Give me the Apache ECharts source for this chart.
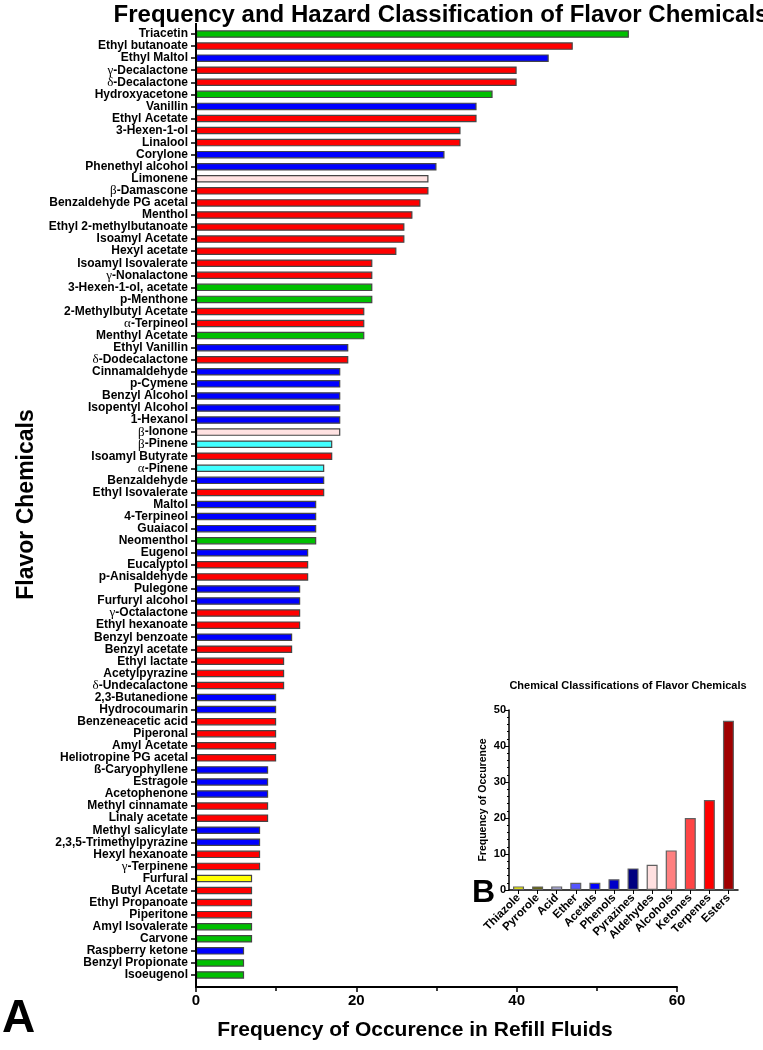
<!DOCTYPE html>
<html>
<head>
<meta charset="utf-8">
<script src="https://cdn.jsdelivr.net/npm/echarts@6/dist/echarts.min.js"></script>
<style>
html,body{margin:0;padding:0;background:#fff;}
#chart{width:763px;height:1050px;}
</style>
</head>
<body>
<div id="chart"></div>
<script>
// ---- Panel A data ----
const chemicals = [
  "Triacetin","Ethyl butanoate","Ethyl Maltol","γ-Decalactone","δ-Decalactone","Hydroxyacetone",
  "Vanillin","Ethyl Acetate","3-Hexen-1-ol","Linalool","Corylone","Phenethyl alcohol","Limonene",
  "β-Damascone","Benzaldehyde PG acetal","Menthol","Ethyl 2-methylbutanoate","Isoamyl Acetate",
  "Hexyl acetate","Isoamyl Isovalerate","γ-Nonalactone","3-Hexen-1-ol, acetate","p-Menthone",
  "2-Methylbutyl Acetate","α-Terpineol","Menthyl Acetate","Ethyl Vanillin","δ-Dodecalactone",
  "Cinnamaldehyde","p-Cymene","Benzyl Alcohol","Isopentyl Alcohol","1-Hexanol","β-Ionone",
  "β-Pinene","Isoamyl Butyrate","α-Pinene","Benzaldehyde","Ethyl Isovalerate","Maltol",
  "4-Terpineol","Guaiacol","Neomenthol","Eugenol","Eucalyptol","p-Anisaldehyde","Pulegone",
  "Furfuryl alcohol","γ-Octalactone","Ethyl hexanoate","Benzyl benzoate","Benzyl acetate",
  "Ethyl lactate","Acetylpyrazine","δ-Undecalactone","2,3-Butanedione","Hydrocoumarin",
  "Benzeneacetic acid","Piperonal","Amyl Acetate","Heliotropine PG acetal","ß-Caryophyllene",
  "Estragole","Acetophenone","Methyl cinnamate","Linaly acetate","Methyl salicylate",
  "2,3,5-Trimethylpyrazine","Hexyl hexanoate","γ-Terpinene","Furfural","Butyl Acetate",
  "Ethyl Propanoate","Piperitone","Amyl Isovalerate","Carvone","Raspberry ketone",
  "Benzyl Propionate","Isoeugenol"
];
const frequency = [
  54,47,44,40,40,37,35,35,33,33,31,30,29,29,28,27,26,26,25,22,22,22,22,21,21,21,19,19,
  18,18,18,18,18,18,17,17,16,16,16,15,15,15,15,14,14,14,13,13,13,13,12,12,11,11,11,
  10,10,10,10,10,10,9,9,9,9,9,8,8,8,8,7,7,7,7,7,7,6,6,6
];
// hazard group code per chemical
const hazardGroup = [
  "G","R","B","R","R","G","B","R","R","R","B","B","P","R","R","R","R","R","R","R","R","G","G",
  "R","R","G","B","R","B","B","B","B","B","P","C","R","C","B","R","B","B","B","G","B","R","R",
  "B","B","R","R","B","R","R","R","R","B","B","R","R","R","R","B","B","B","R","R","B","B","R",
  "R","Y","R","R","R","G","G","B","G","G"
];
const xTicks = [0, 20, 40, 60];

// ---- Panel B data ----
const classNames = ["Thiazole","Pyrorole","Acid","Ether","Acetals","Phenols","Pyrazines","Aldehydes","Alcohols","Ketones","Terpenes","Esters"];
const classCounts = [1,1,1,2,2,3,6,7,11,20,25,47];

// ---- styles ----
const groupColor = {G:"#00c000", R:"#ff0000", B:"#0000ff", P:"#ffe2e2", C:"#40ffff", Y:"#ffff00"};
const classColor = ["#ffff00","#6b6b00","#b8b8f0","#5555ff","#0000ff","#0000c8","#000080","#ffe0e0","#ff8080","#ff4545","#ff0000","#a00000"];

const SANS = "'Liberation Sans', Arial, sans-serif";
const chart = echarts.init(document.getElementById('chart'), null, {renderer:'canvas'});

const option = {
  backgroundColor: '#fff',
  animation: false,
  title: [{
    text: 'Frequency and Hazard Classification of Flavor Chemicals',
    left: 436, top: -2, textAlign: 'center',
    textStyle: {fontFamily: SANS, fontWeight: 'bold', fontSize: 24, color: '#000'}
  },{
    text: 'Chemical Classifications of Flavor Chemicals',
    left: 623, top: 675, textAlign: 'center',
    textStyle: {fontFamily: SANS, fontWeight: 'bold', fontSize: 11, color: '#000'}
  },{
    text: 'Frequency of Occurence in Refill Fluids',
    left: 410, top: 1015, textAlign: 'center',
    textStyle: {fontFamily: SANS, fontWeight: 'bold', fontSize: 21, color: '#000'}
  }],
  grid: [
    {left: 196, top: 28, width: 481, height: 953, containLabel: false},
    {left: 509, top: 710, width: 229, height: 180, containLabel: false}
  ],
  xAxis: [{
    gridIndex: 0, type: 'value', min: 0, max: 60, interval: 20, offset: 6,
    axisLine: {show: true, lineStyle: {color: '#000', width: 2}},
    axisTick: {show: true, length: 5, lineStyle: {color: '#000', width: 1.5}},
    minorTick: {show: true, splitNumber: 2, length: 4, lineStyle: {color: '#000', width: 1.5}},
    splitLine: {show: false},
    axisLabel: {margin: 6, fontFamily: SANS, fontWeight: 'bold', fontSize: 15, color: '#000',
      customValues: xTicks}
  },{
    gridIndex: 1, type: 'category', data: classNames,
    axisLine: {show: true, lineStyle: {color: '#000', width: 1.5}},
    axisTick: {show: true, alignWithLabel: true, length: 4, lineStyle: {color: '#000'}},
    axisLabel: {rotate: 45, margin: 6, interval: 0, fontFamily: SANS, fontWeight: 'bold', fontSize: 11.5, color: '#000'}
  }],
  yAxis: [{
    gridIndex: 0, type: 'category', data: chemicals, inverse: true,
    axisLine: {show: false},
    axisTick: {show: true, alignWithLabel: true, length: 5, lineStyle: {color: '#000', width: 1.5}},
    axisLabel: {interval: 0, margin: 8, fontFamily: SANS, fontWeight: 'bold', fontSize: 12, color: '#000',
      formatter: function (v) {
        const c = v.charAt(0);
        if ('αβγδ'.indexOf(c) >= 0) return '{gr|' + c + '}' + v.slice(1);
        return v;
      },
      rich: {gr: {fontFamily: "'Liberation Serif', 'Times New Roman', serif", fontWeight: 'normal', fontSize: 13, color: '#000'}}
    },
    name: 'Flavor Chemicals', nameLocation: 'middle', nameGap: 158, nameRotate: 90,
    nameTextStyle: {fontFamily: SANS, fontWeight: 'bold', fontSize: 23, color: '#000'}
  },{
    gridIndex: 1, type: 'value', min: 0, max: 50, interval: 10,
    axisLine: {show: true, lineStyle: {color: '#000', width: 1.5}},
    axisTick: {show: true, length: 4, lineStyle: {color: '#000'}},
    minorTick: {show: true, splitNumber: 5, length: 2, lineStyle: {color: '#000'}},
    splitLine: {show: false},
    axisLabel: {margin: 3, fontFamily: SANS, fontWeight: 'bold', fontSize: 11, color: '#000'},
    name: 'Frequency of Occurence', nameLocation: 'middle', nameGap: 20, nameRotate: 90,
    nameTextStyle: {fontFamily: SANS, fontWeight: 'bold', fontSize: 10.5, color: '#000'}
  }],
  series: [{
    type: 'bar', xAxisIndex: 0, yAxisIndex: 0, barWidth: 7.5,
    data: frequency.map((v, i) => ({value: v, itemStyle: {color: groupColor[hazardGroup[i]]}})),
    itemStyle: {borderColor: '#454545', borderWidth: 1.2}
  },{
    type: 'bar', xAxisIndex: 1, yAxisIndex: 1, barWidth: 11,
    data: classCounts.map((v, i) => ({value: v, itemStyle: {color: classColor[i]}})),
    itemStyle: {borderColor: '#606060', borderWidth: 1.2}
  }],
  graphic: [
    {type: 'line', shape: {x1: 196, y1: 23, x2: 196, y2: 988}, style: {stroke: '#000', lineWidth: 2}, z: 10},
    {type: 'text', left: 2, top: 996, style: {text: 'A', fontFamily: SANS, fontWeight: 'bold', fontSize: 46, fill: '#000'}},
    {type: 'text', left: 472, top: 877, style: {text: 'B', fontFamily: SANS, fontWeight: 'bold', fontSize: 32, fill: '#000'}}
  ]
};
chart.setOption(option);
</script>
</body>
</html>
